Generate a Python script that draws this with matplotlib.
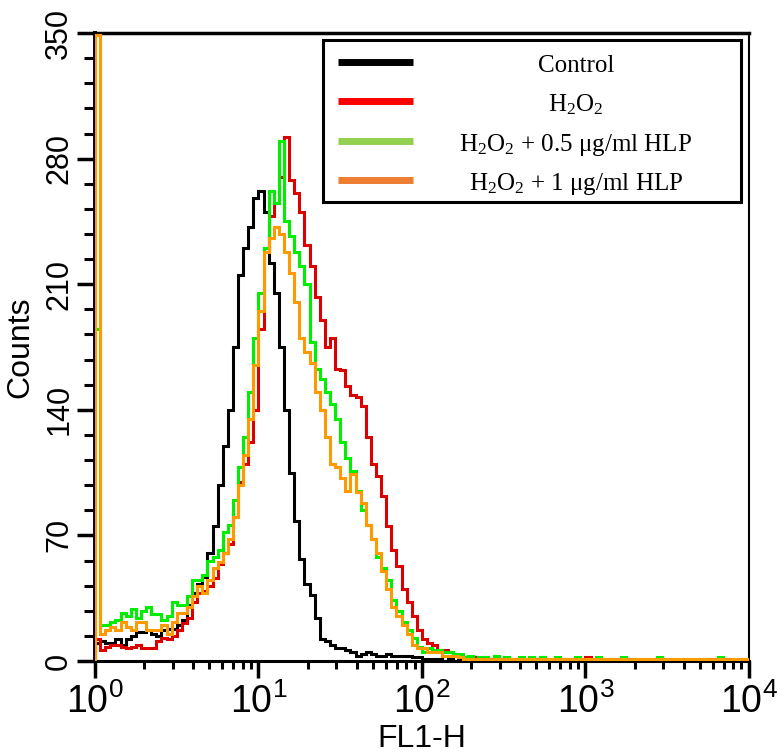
import matplotlib
matplotlib.use("Agg")
import matplotlib.pyplot as plt
import numpy as np
from matplotlib.patches import Rectangle
from matplotlib.ticker import FuncFormatter, LogLocator, MultipleLocator, NullFormatter

plt.rcParams.update(
    {
        "font.family": "Liberation Sans",
        "mathtext.fontset": "custom",
        "mathtext.rm": "Liberation Serif",
        "mathtext.it": "Liberation Serif:italic",
        "mathtext.sf": "Liberation Sans",
    }
)

# ──── DATA (counts per 1/32 decade channel, FL1-H 10^0 .. 10^4) ──────────────

fl1_edges = np.logspace(0, 4, 129)

control = [
    10, 11, 10, 10, 12, 9, 12, 14, 16, 16,
    17, 15, 14, 17, 18, 18, 20, 23, 31, 38,
    43, 47, 60, 75, 98, 120, 140, 175, 215, 230,
    242, 258, 262, 250, 222, 205, 175, 140, 105, 78,
    57, 43, 37, 24, 12, 11, 9, 7, 7, 6,
    5, 3, 4, 5, 4, 3, 3, 4, 3, 3,
    3, 3, 2, 2, 1, 1, 1, 1, 0, 1,
    0, 1, 1, 0, 1, 1, 0, 1, 0, 0,
    0, 0, 0, 0, 0, 0, 0, 0, 0, 0,
    0, 0, 0, 0, 0, 0, 0, 0, 0, 0,
    0, 0, 0, 1, 0, 0, 0, 0, 0, 0,
    0, 0, 0, 0, 0, 0, 0, 0, 0, 0,
    0, 0, 0, 0, 0, 0, 0, 0,
]

h2o2 = [
    12, 6, 8, 9, 9, 8, 7, 8, 9, 7,
    7, 7, 11, 13, 12, 14, 17, 21, 24, 33,
    38, 39, 42, 46, 54, 60, 65, 80, 100, 110,
    122, 140, 185, 230, 248, 255, 270, 292, 268, 261,
    250, 232, 220, 203, 190, 175, 180, 163, 162, 153,
    148, 147, 142, 125, 110, 103, 92, 75, 62, 53,
    40, 33, 25, 17, 12, 10, 9, 6, 6, 5,
    4, 3, 2, 1, 2, 1, 2, 1, 0, 1,
    0, 0, 0, 0, 1, 1, 0, 2, 0, 0,
    0, 0, 0, 1, 0, 0, 2, 1, 0, 0,
    0, 0, 0, 0, 0, 0, 0, 0, 0, 0,
    0, 0, 0, 0, 0, 0, 0, 0, 0, 0,
    0, 0, 0, 0, 0, 0, 0, 0,
]

hlp_05 = [
    185, 20, 20, 22, 23, 27, 25, 29, 24, 28,
    30, 26, 26, 23, 25, 33, 31, 31, 36, 45,
    45, 48, 56, 58, 62, 72, 76, 90, 108, 125,
    150, 180, 205, 230, 262, 255, 290, 245, 237, 228,
    220, 210, 178, 163, 157, 150, 143, 135, 122, 113,
    106, 95, 84, 76, 68, 58, 52, 45, 34, 28,
    22, 17, 13, 8, 5, 7, 6, 6, 5, 5,
    4, 4, 2, 3, 1, 2, 2, 1, 3, 1,
    2, 1, 1, 2, 0, 2, 1, 2, 0, 1,
    2, 0, 1, 0, 2, 1, 0, 0, 2, 0,
    1, 0, 0, 2, 0, 0, 1, 0, 0, 0,
    2, 0, 0, 0, 0, 1, 0, 0, 0, 0,
    0, 0, 2, 0, 0, 0, 0, 0,
]

hlp_1 = [
    349, 15, 17, 19, 17, 22, 19, 17, 22, 22,
    17, 17, 17, 20, 15, 22, 27, 27, 30, 36,
    42, 38, 45, 52, 55, 60, 68, 80, 98, 115,
    135, 165, 195, 228, 236, 242, 238, 228, 216, 200,
    180, 172, 166, 150, 140, 125, 110, 108, 102, 95,
    104, 94, 88, 76, 68, 60, 50, 40, 30, 25,
    20, 15, 9, 7, 7, 5, 5, 5, 3, 3,
    3, 2, 1, 1, 1, 1, 1, 1, 1, 1,
    1, 1, 1, 1, 1, 1, 1, 1, 1, 1,
    1, 1, 1, 1, 1, 1, 1, 1, 1, 1,
    1, 1, 1, 1, 1, 1, 1, 1, 1, 1,
    1, 1, 1, 1, 1, 1, 1, 1, 1, 1,
    1, 1, 1, 1, 1, 1, 1, 1,
]

series = [control, h2o2, hlp_05, hlp_1]
series_labels = [
    "Control",
    "H$_2$O$_2$",
    "H$_2$O$_2$ + 0.5 \u03bcg/ml HLP",
    "H$_2$O$_2$ + 1 \u03bcg/ml HLP",
]
line_colors = ["#000000", "#dd0000", "#00ee00", "#ff9900"]
legend_colors = ["#000000", "#ff0000", "#92d050", "#ed7d31"]

y_ticks_major = 70
y_ticks_minor = 14

# ──── PLOT ───────────────────────────────────────────────────────────────────

fig = plt.figure(figsize=(7.78, 7.56), dpi=100)
ax = fig.add_axes([0.1221, 0.1257, 0.8406, 0.8306])

for counts, col in zip(series, line_colors):
    ax.stairs(counts, fl1_edges, color=col, lw=2.2, baseline=0, zorder=3)

ax.set_xscale("log")
ax.set_xlim(1, 1e4)
ax.set_ylim(0, 350)

ax.xaxis.set_major_locator(LogLocator(base=10, numticks=10))
ax.xaxis.set_minor_locator(LogLocator(base=10, subs=range(2, 10), numticks=40))
ax.xaxis.set_minor_formatter(NullFormatter())
ax.xaxis.set_major_formatter(FuncFormatter(lambda x, _: r"$\mathsf{10^{%d}}$" % round(np.log10(x))))

ax.yaxis.set_major_locator(MultipleLocator(y_ticks_major))
ax.yaxis.set_minor_locator(MultipleLocator(y_ticks_minor))

ax.tick_params(axis="x", which="major", length=12, width=2.5, pad=4, labelsize=27)
ax.tick_params(axis="x", which="minor", length=6, width=2.2)
ax.tick_params(axis="y", which="major", length=13, width=2.5, pad=2, labelsize=22, labelrotation=90)
ax.tick_params(axis="y", which="minor", length=8, width=2.2)
for lab in ax.get_yticklabels():
    lab.set_va("center")
    lab.set_fontfamily(["Liberation Sans Narrow", "Liberation Sans"])

ax.spines["left"].set_linewidth(2.8)
ax.spines["bottom"].set_linewidth(2.2)
ax.spines["top"].set_linewidth(2.5)
ax.spines["right"].set_linewidth(1.5)

ax.set_xlabel("FL1-H", fontsize=23, labelpad=2)
ax.set_ylabel("Counts", fontsize=23, labelpad=6)

# legend box drawn by hand so the labels can be centred
ax.add_patch(Rectangle((0.3486, 0.7309), 0.6392, 0.258, transform=ax.transAxes,
                       fc="white", ec="black", lw=2.2, zorder=5))
for i, (name, col) in enumerate(zip(series_labels, legend_colors)):
    y = 0.9538 - i * 0.0626
    ax.plot([0.3716, 0.4862], [y, y], transform=ax.transAxes, color=col, lw=5,
            solid_capstyle="butt", zorder=6)
    ax.text(0.7355, y - 0.0159, name, transform=ax.transAxes, ha="center", va="baseline",
            fontsize=18, family="Liberation Serif", zorder=6)

fig.savefig("out.png", dpi=100)
